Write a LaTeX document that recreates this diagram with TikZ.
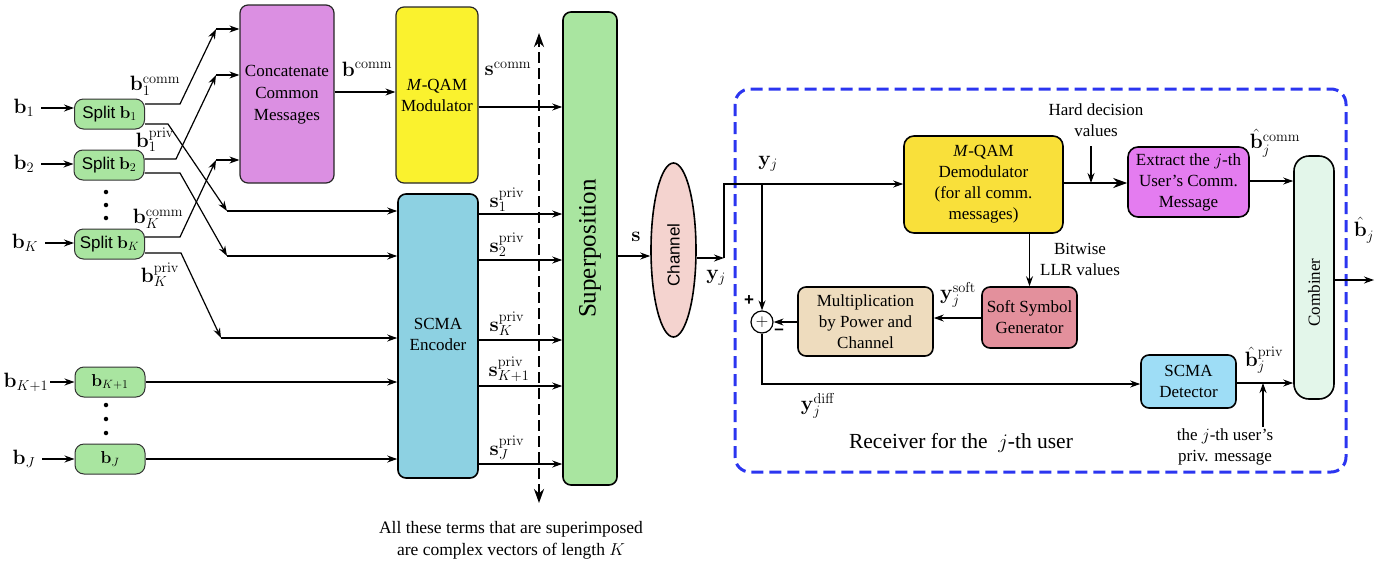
\documentclass[tikz,border=0pt]{standalone}
\usepackage[no-math]{fontspec}
\setmainfont{Liberation Serif}
\setsansfont{Liberation Sans}
\renewcommand{\familydefault}{\rmdefault}
\usepackage{graphicx}
\usetikzlibrary{arrows.meta,shapes.geometric}
\definecolor{cGrn}{HTML}{A9E5A0}
\definecolor{cCat}{HTML}{DB8FE2}
\definecolor{cMod}{HTML}{FAF22E}
\definecolor{cEnc}{HTML}{8DD1E2}
\definecolor{cCh}{HTML}{F4D3CF}
\definecolor{cDem}{HTML}{F9E03A}
\definecolor{cExt}{HTML}{E47CF0}
\definecolor{cSoft}{HTML}{E3909C}
\definecolor{cMult}{HTML}{EEDCBE}
\definecolor{cDet}{HTML}{9EDDF6}
\definecolor{cComb}{HTML}{E3F6EA}
\definecolor{cBlue}{HTML}{2B35F0}
\begin{document}
\begin{tikzpicture}[x=1pt,y=-1pt,
  every node/.style={font=\rmfamily\fontsize{17}{21}\selectfont, inner sep=1pt},
  lab/.style={font=\rmfamily\fontsize{19.5}{22}\selectfont},
  box/.style={draw=black, line width=1.6pt, rounded corners=8pt, align=center, inner sep=2pt},
  splitbox/.style={box, fill=cGrn, line width=1pt, draw=black!80, minimum width=70, minimum height=30, rounded corners=9pt},
  arr/.style={line width=1.2pt, -{Stealth[length=10pt,width=7pt]}},
  thickarr/.style={line width=2.2pt, -{Stealth[length=14pt,width=10pt]}},
  dasharr/.style={line width=2.8pt, dash pattern=on 11pt off 5pt, {Stealth[length=14pt,width=10pt]}-{Stealth[length=14pt,width=10pt]}},
  dot/.style={circle, fill=black, inner sep=0pt, minimum size=4.5pt},
]
\useasboundingbox (0,0) rectangle (1395,563);

% ---------- left: split boxes ----------
\node[splitbox] (sp1) at (109.5,114) {{\sffamily Split} $\mathbf{b}_1$};
\node[splitbox] (sp2) at (109,165) {{\sffamily Split} $\mathbf{b}_2$};
\node[splitbox] (spK) at (109.5,244) {{\sffamily Split} $\mathbf{b}_K$};
\node[splitbox, font=\rmfamily\fontsize{18.5}{21}\selectfont] (bK1) at (110,382) {$\mathbf{b}_{K+1}$};
\node[splitbox, font=\rmfamily\fontsize{18.5}{21}\selectfont] (bJ) at (110,459) {$\mathbf{b}_J$};

\node[dot] (d1) at (106,192) {}; \node[dot] (d2) at (106,205) {}; \node[dot] (d3) at (106,218) {};
\node[dot] (d4) at (106,405) {}; \node[dot] (d5) at (106,419) {}; \node[dot] (d6) at (106,433) {};

\node[lab] (lb1) at (24,108) {$\mathbf{b}_1$};
\node[lab] (lb2) at (24,164) {$\mathbf{b}_2$};
\node[lab] (lbK) at (25,243) {$\mathbf{b}_K$};
\node[lab] (lbK1) at (26,382) {$\mathbf{b}_{K+1}$};
\node[lab] (lbJ) at (24,459) {$\mathbf{b}_J$};
\draw[arr] ([xshift=6pt]lb1.east) -- (sp1.west|-lb1);
\draw[arr] ([xshift=6pt]lb2.east) -- (sp2.west|-lb2);
\draw[arr] ([xshift=6pt]lbK.east) -- (spK.west|-lbK);
\draw[arr] ([xshift=1pt]lbK1.east) -- (bK1.west|-lbK1);
\draw[arr] ([xshift=6pt]lbJ.east) -- (bJ.west|-lbJ);

% ---------- main blocks ----------
\node[box, fill=cCat, line width=1.2pt, draw=black!85, minimum width=94, minimum height=178] (cat) at (287,94)
  {\raisebox{11pt}{\begin{tabular}{@{}c@{}}Concatenate\\[1pt]Common\\[1pt]Messages\end{tabular}}};
\node[box, fill=cMod, line width=1.2pt, draw=black!85, minimum width=82, minimum height=176] (mod) at (437,95)
  {\textit{M}-QAM\\Modulator};
\node[box, fill=cEnc, minimum width=80, minimum height=284] (enc) at (438,336)
  {\raisebox{11pt}{\begin{tabular}{@{}c@{}}SCMA\\Encoder\end{tabular}}};
\node[box, fill=cGrn, minimum width=54, minimum height=473] (sup) at (590,248.5)
  {\rotatebox{90}{\fontsize{25}{28}\selectfont Superposition}};
\node[ellipse, draw, line width=1.6pt, fill=cCh, minimum width=45, minimum height=174, inner sep=0pt] (ch) at (673.5,250)
  {\rotatebox{90}{\sffamily Channel\hspace{10pt}}};

% common parts
\coordinate (c1) at (216,29);
\coordinate (c2) at (216,75);
\coordinate (cK) at (216,160);
\draw[arr] (sp1.east|-0,104) -- (180,104) -- (c1);
\draw[arr] (c1) -- (cat.west|-c1);
\draw[arr] (sp2.east|-0,159) -- (176,159) -- (c2);
\draw[arr] (c2) -- (cat.west|-c2);
\draw[arr] (spK.east|-0,237) -- (180,237) -- (cK);
\draw[arr] (cK) -- (cat.west|-cK);

% private parts
\coordinate (p1) at (227,211);
\coordinate (p2) at (227,256);
\coordinate (pK) at (221,338);
\draw[arr] (sp1.east|-0,124) -- (168,124) -- (p1);
\draw[arr] (p1) -- (enc.west|-p1);
\draw[arr] (sp2.east|-0,173) -- (180,173) -- (p2);
\draw[arr] (p2) -- (enc.west|-p2);
\draw[arr] (spK.east|-0,253) -- (181,253) -- (pK);
\draw[arr] (pK) -- (enc.west|-pK);
\draw[arr] (bK1.east) -- (enc.west|-bK1);
\draw[arr] (bJ.east) -- (enc.west|-bJ);

\node[lab] (l1c) at (155,86) {$\mathbf{b}_1^{\mathrm{comm}}$};
\node[lab] (l1p) at (155,140) {$\mathbf{b}_1^{\mathrm{priv}}$};
\node[lab] (lKc) at (158,219) {$\mathbf{b}_K^{\mathrm{comm}}$};
\node[lab] (lKp) at (160,275) {$\mathbf{b}_K^{\mathrm{priv}}$};

% modulator/encoder outputs
\draw[arr] (cat.east|-0,92) -- (mod.west|-0,92);
\node[lab] (lbc) at (367,69) {$\mathbf{b}^{\mathrm{comm}}$};
\draw[arr] (mod.east|-0,107) -- (sup.west|-0,107);
\node[lab] (lsc) at (508,69) {$\mathbf{s}^{\mathrm{comm}}$};
\draw[arr] (enc.east|-0,214) -- (sup.west|-0,214);
\draw[arr] (enc.east|-0,260) -- (sup.west|-0,260);
\draw[arr] (enc.east|-0,340) -- (sup.west|-0,340);
\draw[arr] (enc.east|-0,386) -- (sup.west|-0,386);
\draw[arr] (enc.east|-0,464) -- (sup.west|-0,464);
\node[lab] (ls1) at (507,200) {$\mathbf{s}_1^{\mathrm{priv}}$};
\node[lab] (ls2) at (507,245) {$\mathbf{s}_2^{\mathrm{priv}}$};
\node[lab] (lsK) at (507,324) {$\mathbf{s}_K^{\mathrm{priv}}$};
\node[lab] (lsK1) at (509,369) {$\mathbf{s}_{K+1}^{\mathrm{priv}}$};
\node[lab] (lsJ) at (507,448) {$\mathbf{s}_J^{\mathrm{priv}}$};

% dashed double arrow
\coordinate (dtop) at (539,33);
\coordinate (dbot) at (539,503);
\draw[dasharr] (dbot) -- (dtop);
\node[align=center, font=\rmfamily\fontsize{17.5}{22}\selectfont] (note) at (511,540)
  {All these terms that are superimposed\\are complex vectors of length $K$};

% superposition -> channel
\draw[arr] (sup.east|-0,256) -- (ch.west|-0,256);
\node[lab] (ls) at (636,237) {$\mathbf{s}$};

% ---------- receiver ----------
\draw[cBlue, line width=3pt, dash pattern=on 12pt off 6pt, rounded corners=15pt] (735,89) rectangle (1346,472);
\node[font=\rmfamily\fontsize{21.5}{25}\selectfont] (rcv) at (961,443) {Receiver for the \ $j$-th user};

\node[box, fill=cDem, minimum width=159, minimum height=97, rounded corners=10pt] (dem) at (983.5,184.5)
  {\textit{M}-QAM\\Demodulator\\(for all comm.\\messages)};
\node[box, fill=cExt, minimum width=121, minimum height=70, rounded corners=10pt, inner sep=0pt] (ext) at (1188.5,182)
  {Extract the $j$-th\\User's Comm.\\Message};
\node[box, fill=cComb, minimum width=40, minimum height=243, rounded corners=15pt] (comb) at (1314,277.5)
  {\rotatebox{90}{Combiner\hspace{30pt}}};
\node[box, fill=cSoft, minimum width=95, minimum height=61] (soft) at (1029.5,317.5)
  {Soft Symbol\\Generator};
\node[box, fill=cMult, minimum width=135, minimum height=69] (mult) at (865.5,321.5)
  {Multiplication\\by Power and\\Channel};
\node[box, fill=cDet, minimum width=95, minimum height=53] (det) at (1188.5,381.5)
  {SCMA\\Detector};
\node[circle, draw, line width=1.2pt, fill=white, minimum size=22pt, inner sep=0pt] (sum) at (762,322) {$+$};

% channel -> receiver
\coordinate (cy) at (724,258);
\coordinate (br) at (762,184);
\draw[arr] (ch.east|-cy) -- (cy);
\draw[arr] (cy) -- (724,184) -- (dem.west|-0,184);
\draw[arr] (br) -- (sum.north);
\node[lab] (ly1) at (716,278) {$\mathbf{y}_j$};
\node[lab] (ly2) at (768,164) {$\mathbf{y}_j$};

% demod -> extract
\draw[thickarr] (dem.east|-0,183) -- (ext.west|-0,183);
\node[align=center] (hd) at (1096,120) {Hard decision\\values};
\coordinate (hdend) at (1091,183);
\draw[arr] (1091,146) -- (hdend);
\draw[arr] (ext.east|-0,181) -- (comb.west|-0,181);
\node[lab] (lbhc) at (1275,143) {$\hat{\mathbf{b}}_j^{\mathrm{comm}}$};

% combiner output
\coordinate (out) at (1374,280);
\draw[arr] (comb.east|-out) -- (out);
\node[lab] (lbh) at (1364,230) {$\hat{\mathbf{b}}_j$};

% demod -> soft
\draw[arr] (soft.north|-dem.south) -- (soft.north);
\node[align=center] (llr) at (1080,259) {Bitwise\\LLR values};

% soft -> mult -> sum
\draw[arr] (soft.west|-0,318) -- (mult.east|-0,318);
\node[lab] (lys) at (958,295) {$\mathbf{y}_j^{\mathrm{soft}}$};
\draw[arr] (mult.west|-sum) -- (sum.east);
\node[font=\sffamily\bfseries\fontsize{17}{18}\selectfont] (plus) at (749,301) {+};
\node[font=\sffamily\bfseries\fontsize{17}{18}\selectfont] (minus) at (779,332) {--};

% sum -> detector
\draw[arr] (sum.south) -- (762,384) -- (det.west|-0,384);
\node[lab] (lyd) at (818,406) {$\mathbf{y}_j^{\mathrm{diff}}$};

% detector -> combiner
\draw[arr] (det.east|-0,383) -- (comb.west|-0,383);
\node[lab] (lbhp) at (1264,360) {$\hat{\mathbf{b}}_j^{\mathrm{priv}}$};
\node[align=center] (pm) at (1225,447) {the $j$-th user's\\priv. message};
\coordinate (pmtop) at (1263,427);
\draw[arr] (pmtop) -- (1263,383);
\end{tikzpicture}
\end{document}
